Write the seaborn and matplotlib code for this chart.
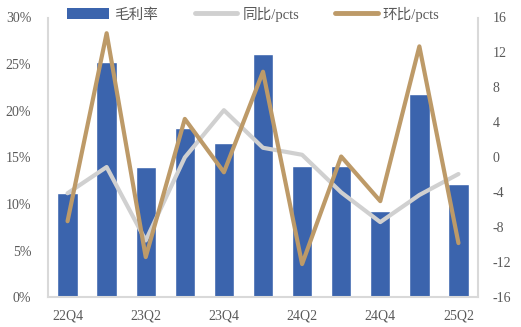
import matplotlib
matplotlib.use("Agg")
import matplotlib.pyplot as plt
import seaborn as sns
import numpy as np
import pandas as pd
from matplotlib.patches import Patch
from matplotlib.lines import Line2D

quarters = ["22Q4", "23Q1", "23Q2", "23Q3", "23Q4", "24Q1", "24Q2", "24Q3", "24Q4", "25Q1", "25Q2"]
gross_margin = [11.2, 25.2, 14.0, 18.1, 16.5, 26.1, 14.1, 14.1, 9.25, 21.8, 12.2]
yoy_pcts = [-4.1, -1.1, -9.5, 0.0, 5.4, 1.1, 0.3, -4.0, -7.4, -4.3, -1.9]
qoq_pcts = [-7.3, 14.2, -11.4, 4.4, -1.7, 9.8, -12.2, 0.1, -5.0, 12.7, -9.8]
shown_labels = ["22Q4", "23Q2", "23Q4", "24Q2", "24Q4", "25Q2"]

BLUE = "#3B64AD"
GRAY = "#D0D0D0"
TAN = "#BD9A68"
TXT = "#595959"
SPINE = "#D9D9D9"

sns.set_style("white")
plt.rcParams["font.family"] = ["Liberation Serif", "Noto Sans CJK SC"]

df = pd.DataFrame({"q": quarters, "gm": gross_margin, "yoy": yoy_pcts,
                   "qoq": qoq_pcts, "pos": np.arange(len(quarters))})

fig = plt.figure(figsize=(5.21, 3.27), dpi=100)
ax = fig.add_axes([48/521, (327-297.3)/327, (478-48)/521, (297.3-17.5)/327])

sns.barplot(data=df, x="q", y="gm", color=BLUE, width=0.52, ax=ax, saturation=1)
ax.set_ylim(0, 30)
ax.set_xlim(-0.5, len(quarters)-0.5)
ax.set_yticks(np.arange(0, 31, 5))
ax.set_yticklabels([f"{v}%" for v in range(0, 31, 5)])
ax.set_xticks([quarters.index(l) for l in shown_labels])
ax.set_xticklabels(shown_labels)
ax.set_xlabel("")
ax.set_ylabel("")

ax2 = ax.twinx()
sns.lineplot(data=df, x="pos", y="yoy", color=GRAY, lw=3, ax=ax2)
sns.lineplot(data=df, x="pos", y="qoq", color=TAN, lw=3, ax=ax2)
ax2.set_ylim(-16, 16)
ax2.set_xlim(-0.5, len(quarters)-0.5)
ax2.set_yticks(np.arange(-16, 17, 4))
ax2.set_yticklabels([str(v) for v in range(-16, 17, 4)])
ax2.set_xlabel("")
ax2.set_ylabel("")

for a in (ax, ax2):
    a.spines["top"].set_visible(False)
    a.tick_params(length=0, labelsize=10, colors=TXT)
    for s in ["left", "right", "bottom"]:
        a.spines[s].set_color(SPINE)
        a.spines[s].set_linewidth(1.5)
ax.tick_params(axis="y", pad=12)
ax.tick_params(axis="x", pad=9)
ax2.tick_params(axis="y", pad=10.5)
ax.spines["right"].set_visible(False)
ax2.spines["left"].set_visible(False)
ax2.spines["bottom"].set_visible(False)

handles = [Patch(facecolor=BLUE, edgecolor="none"),
           Line2D([0], [0], color=GRAY, lw=3.5),
           Line2D([0], [0], color=TAN, lw=3.5, solid_capstyle="round")]
labels = ["毛利率", "同比/pcts", "环比/pcts"]
fig.legend(handles, labels, loc="upper left", bbox_to_anchor=(54/521, 1.02), ncol=3,
           frameon=False, handlelength=2.9, handleheight=0.8,
           columnspacing=2.5, handletextpad=0.35, labelcolor=TXT,
           prop={"family": ["Liberation Serif", "Noto Sans CJK SC"], "size": 10.5})

fig.savefig("out.png", dpi=100)
